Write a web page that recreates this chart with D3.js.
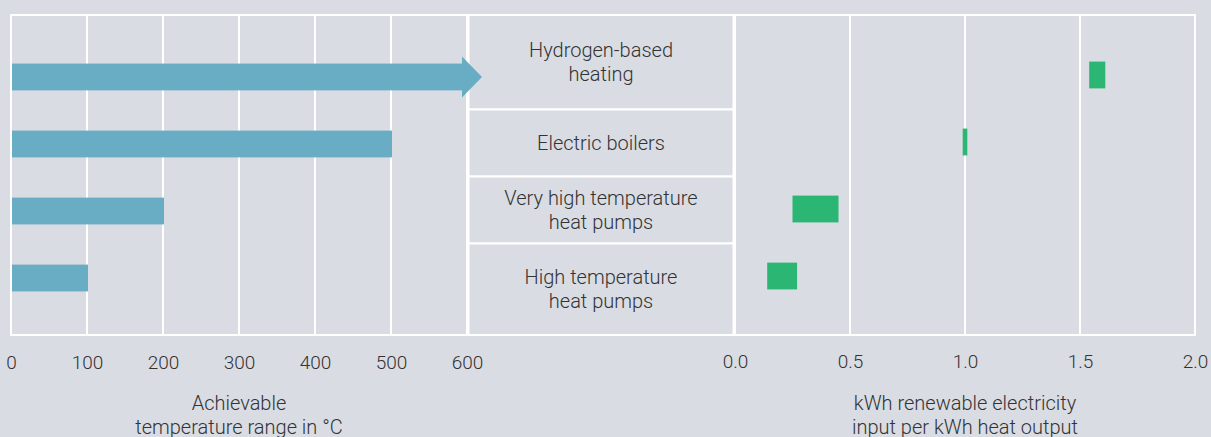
<!DOCTYPE html>
<html>
<head>
<meta charset="utf-8">
<script src="https://cdn.jsdelivr.net/npm/d3@7"></script>
<style>
  html, body { margin: 0; padding: 0; background: #d9dce3; }
  svg { display: block; font-family: Roboto, "Noto Sans", sans-serif; font-weight: 300; }
  .tick text { font-size: 19px; fill: #333; }
</style>
</head>
<body>
<div id="chart"></div>
<script>
// rows, top to bottom
var technologies = ["Hydrogen-based heating", "Electric boilers", "Very high temperature heat pumps", "High temperature heat pumps"];
var labelLines = [["Hydrogen-based", "heating"], ["Electric boilers"], ["Very high temperature", "heat pumps"], ["High temperature", "heat pumps"]];

// achievable temperature (°C)
var maxTemp = [600, 500, 200, 100];
var openEnded = [true, false, false, false];

// kWh renewable electricity per kWh heat
var elecLow = [1.54, 0.99, 0.25, 0.14];
var elecHigh = [1.61, 1.01, 0.45, 0.27];

var tempTicks = [0, 100, 200, 300, 400, 500, 600];
var elecTicks = [0, 0.5, 1.0, 1.5, 2.0];

var width = 1211, height = 437;
var plotTop = 15, plotBottom = 335;

var blue = "#69adc4", green = "#2bb673", textCol = "#333";
var fontPx = 20;

var svg = d3.select("#chart").append("svg")
    .attr("width", width)
    .attr("height", height);

var xTemp = d3.scaleLinear().domain([0, 600]).range([11, 467]);
var xElec = d3.scaleLinear().domain([0, 2]).range([735, 1195]);

var y = d3.scaleBand()
    .domain(technologies)
    .range([plotTop, 338])
    .paddingInner(0.6)
    .paddingOuter(0.71);

// frame
svg.append("rect")
    .attr("x", 11).attr("y", plotTop)
    .attr("width", 1195 - 11).attr("height", plotBottom - plotTop)
    .attr("fill", "none").attr("stroke", "#fff").attr("stroke-width", 2);

// grid lines
svg.selectAll("line.gridT")
    .data(tempTicks)
  .enter().append("line")
    .attr("class", "gridT")
    .attr("x1", function(d) { return xTemp(d); })
    .attr("x2", function(d) { return xTemp(d); })
    .attr("y1", plotTop).attr("y2", plotBottom)
    .attr("stroke", "#fff").attr("stroke-width", 2);

svg.selectAll("line.gridE")
    .data(elecTicks)
  .enter().append("line")
    .attr("class", "gridE")
    .attr("x1", function(d) { return xElec(d); })
    .attr("x2", function(d) { return xElec(d); })
    .attr("y1", plotTop).attr("y2", plotBottom)
    .attr("stroke", "#fff").attr("stroke-width", 2);

// label cells in the middle
var step = y.step();
function cellTop(i) { return i === 0 ? plotTop : y(technologies[i]) + y.bandwidth() / 2 - step / 2; }
function cellBottom(i) { return i === technologies.length - 1 ? plotBottom : y(technologies[i]) + y.bandwidth() / 2 + step / 2; }

var cells = svg.selectAll("g.cell")
    .data(technologies)
  .enter().append("g")
    .attr("class", "cell");

cells.append("rect")
    .attr("x", 468.5)
    .attr("y", function(d, i) { return cellTop(i); })
    .attr("width", 733.5 - 468.5)
    .attr("height", function(d, i) { return cellBottom(i) - cellTop(i); })
    .attr("fill", "#d9dce3")
    .attr("stroke", "#fff").attr("stroke-width", 2);

cells.append("text")
    .attr("x", (468 + 734) / 2)
    .attr("text-anchor", "middle")
    .attr("fill", textCol)
    .style("font-size", fontPx + "px")
    .each(function(d, i) {
      var lines = labelLines[i];
      var mid = (cellTop(i) + cellBottom(i)) / 2;
      var lh = 24;
      var first = mid + 7 - (lines.length - 1) * lh / 2;
      d3.select(this).selectAll("tspan")
        .data(lines)
        .enter().append("tspan")
        .attr("x", (468 + 734) / 2)
        .attr("y", function(l, j) { return first + j * lh; })
        .text(function(l) { return l; });
    });

// temperature bars
svg.selectAll("rect.temp")
    .data(technologies)
  .enter().append("rect")
    .attr("class", "temp")
    .attr("x", xTemp(0) + 1)
    .attr("y", function(d) { return y(d) + 1; })
    .attr("width", function(d, i) { return (openEnded[i] ? xTemp(maxTemp[i]) - 5 : xTemp(maxTemp[i])) - xTemp(0); })
    .attr("height", y.bandwidth())
    .attr("fill", blue);

// arrow heads for open ended ranges
svg.selectAll("path.head")
    .data(technologies.filter(function(d, i) { return openEnded[i]; }))
  .enter().append("path")
    .attr("class", "head")
    .attr("d", function(d) {
      var i = technologies.indexOf(d);
      var x0 = xTemp(maxTemp[i]) - 5, cy = y(d) + 1 + y.bandwidth() / 2;
      return "M" + x0 + "," + (cy - 20.5) + "L" + (x0 + 20) + "," + cy + "L" + x0 + "," + (cy + 20.5) + "Z";
    })
    .attr("fill", blue);

// electricity ranges
svg.selectAll("rect.elec")
    .data(technologies)
  .enter().append("rect")
    .attr("class", "elec")
    .attr("x", function(d, i) { return xElec(elecLow[i]); })
    .attr("y", function(d) { return y(d) - 1; })
    .attr("width", function(d, i) { return Math.max(2.5, xElec(elecHigh[i]) - xElec(elecLow[i])); })
    .attr("height", y.bandwidth())
    .attr("fill", green);

// axes (labels only)
var axT = svg.append("g")
    .attr("transform", "translate(0," + 355 + ")")
    .call(d3.axisBottom(xTemp).tickValues(tempTicks).tickSize(0).tickPadding(0).tickFormat(d3.format("d")));
axT.select(".domain").remove();

var axE = svg.append("g")
    .attr("transform", "translate(0," + 354 + ")")
    .call(d3.axisBottom(xElec).tickValues(elecTicks).tickSize(0).tickPadding(0).tickFormat(d3.format(".1f")));
axE.select(".domain").remove();

// let the css font apply to the tick labels
axT.attr("font-family", null).attr("font-size", null);
axE.attr("font-family", null).attr("font-size", null);

// axis titles
function title(cx, lines) {
  svg.append("text")
    .attr("text-anchor", "middle")
    .attr("fill", textCol)
    .style("font-size", fontPx + "px")
    .selectAll("tspan")
    .data(lines)
    .enter().append("tspan")
      .attr("x", cx)
      .attr("y", function(l, j) { return 410 + j * 24; })
      .text(function(l) { return l; });
}
title(xTemp(300), ["Achievable", "temperature range in °C"]);
title(xElec(1), ["kWh renewable electricity", "input per kWh heat output"]);
</script>
</body>
</html>
